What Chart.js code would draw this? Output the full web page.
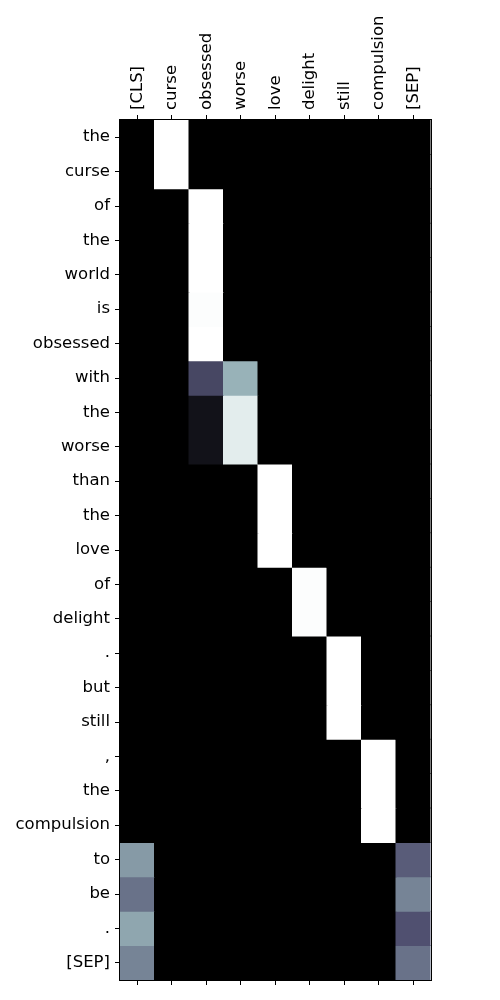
<!DOCTYPE html>
<html>
<head>
<meta charset="utf-8">
<script src="https://cdn.jsdelivr.net/npm/chart.js@4.4.1/dist/chart.umd.min.js"></script>
<style>
html,body{margin:0;padding:0;background:#fff;}
canvas{display:block;}
</style>
</head>
<body>
<canvas id="c" width="500" height="1000"></canvas>
<script>
const columns = ["[CLS]","curse","obsessed","worse","love","delight","still","compulsion","[SEP]"];
const rows = ["the","curse","of","the","world","is","obsessed","with","the","worse","than","the","love","of","delight",".","but","still",",","the","compulsion","to","be",".","[SEP]"];
const attention = [
  [0,1,0,0,0,0,0,0,0],
  [0,1,0,0,0,0,0,0,0],
  [0,0,1,0,0,0,0,0,0],
  [0,0,1,0,0,0,0,0,0],
  [0,0,1,0,0,0,0,0,0],
  [0,0,0.99,0,0,0,0,0,0],
  [0,0,1,0,0,0,0,0,0],
  [0,0,0.32,0.68,0,0,0,0,0],
  [0,0,0.08,0.92,0,0,0,0,0],
  [0,0,0.08,0.92,0,0,0,0,0],
  [0,0,0,0,1,0,0,0,0],
  [0,0,0,0,1,0,0,0,0],
  [0,0,0,0,1,0,0,0,0],
  [0,0,0,0,0,0.99,0,0,0],
  [0,0,0,0,0,0.99,0,0,0],
  [0,0,0,0,0,0,1,0,0],
  [0,0,0,0,0,0,1,0,0],
  [0,0,0,0,0,0,1,0,0],
  [0,0,0,0,0,0,0,1,0],
  [0,0,0,0,0,0,0,1,0],
  [0,0,0,0,0,0,0,1,0],
  [0.60,0,0,0,0,0,0,0,0.40],
  [0.47,0,0,0,0,0,0,0,0.53],
  [0.64,0,0,0,0,0,0,0,0.36],
  [0.53,0,0,0,0,0,0,0,0.47]
];

// matplotlib "bone" colormap
function seg(v, pts){
  for(let i=1;i<pts.length;i++){
    if(v<=pts[i][0]){
      const [x0,y0]=pts[i-1],[x1,y1]=pts[i];
      return y0+(y1-y0)*(v-x0)/(x1-x0);
    }
  }
  return pts[pts.length-1][1];
}
function bone(v){
  v=Math.max(0,Math.min(1,v));
  const r=seg(v,[[0,0],[0.746032,0.652778],[1,1]]);
  const g=seg(v,[[0,0],[0.365079,0.319444],[0.746032,0.777778],[1,1]]);
  const b=seg(v,[[0,0],[0.365079,0.444444],[1,1]]);
  return `rgb(${Math.round(r*255)},${Math.round(g*255)},${Math.round(b*255)})`;
}

const FONT = {family:"'DejaVu Sans', sans-serif", size:16.5};

const datasets = rows.map((name,r)=>({
  label: name,
  data: columns.map(()=>[r, r+1]),
  backgroundColor: attention[r].map(bone),
  borderWidth: 0,
  inflateAmount: 0.5,
  barPercentage: 1,
  categoryPercentage: 1,
  grouped: false
}));

const frame = {
  id:'frame',
  afterDraw(chart){
    const {ctx, chartArea:a} = chart;
    ctx.save();
    ctx.strokeStyle='#000';
    ctx.lineWidth=1;
    ctx.strokeRect(Math.round(a.left)-0.5, Math.round(a.top)-0.5, Math.round(a.right-a.left)+1, Math.round(a.bottom-a.top)+1);
    ctx.restore();
  }
};

new Chart(document.getElementById('c'), {
  type:'bar',
  data:{ labels: columns, datasets },
  plugins:[frame],
  options:{
    responsive:false,
    animation:false,
    layout:{padding:{left:0,right:69.5,top:0,bottom:0}},
    plugins:{legend:{display:false}, tooltip:{enabled:false}},
    scales:{
      x:{
        type:'category',
        position:'top',
        offset:true,
        grid:{offset:false, drawOnChartArea:false, drawTicks:true, tickLength:5, color:'#000', tickWidth:1},
        border:{display:false},
        ticks:{color:'#000', font:FONT, minRotation:90, maxRotation:90, autoSkip:false, padding:5, labelOffset:20},
        afterFit(s){ s.height = 120; }
      },
      x2:{
        type:'category',
        labels: columns,
        position:'bottom',
        offset:true,
        grid:{offset:false, drawOnChartArea:false, drawTicks:true, tickLength:5, color:'#000', tickWidth:1},
        border:{display:false},
        ticks:{display:false, autoSkip:false},
        afterFit(s){ s.height = 20; }
      },
      y:{
        type:'linear',
        min:0, max:rows.length,
        reverse:true,
        grid:{drawOnChartArea:false, drawTicks:true, tickLength:5, color:'#000', tickWidth:1},
        border:{display:false},
        afterBuildTicks(s){ s.ticks = rows.map((_,i)=>({value:i+0.5})); },
        ticks:{color:'#000', font:FONT, autoSkip:false, padding:5,
          callback:(v)=>rows[Math.floor(v)]},
        afterFit(s){ s.width = 120; }
      }
    }
  }
});
</script>
</body>
</html>
